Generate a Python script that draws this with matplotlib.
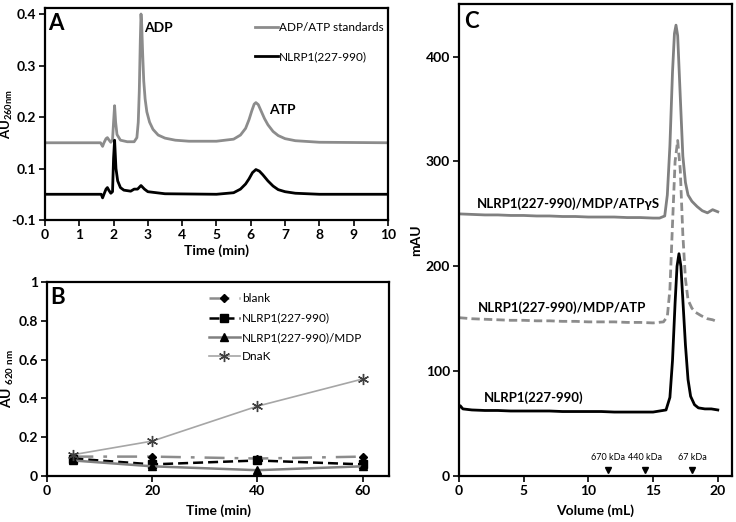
import matplotlib
matplotlib.use("Agg")
import matplotlib.pyplot as plt

plt.rcParams['font.family'] = ['Lato', 'DejaVu Sans']
plt.rcParams['mathtext.default'] = 'regular'

# ---------------- Panel A data ----------------
std_time = [0, 1.0, 1.62, 1.68, 1.72, 1.78, 1.82, 1.86, 1.92, 1.97, 2.0, 2.03, 2.06, 2.1, 2.2, 2.4,
            2.6, 2.68, 2.72, 2.75, 2.78, 2.8, 2.82, 2.85, 2.88, 2.92, 2.97, 3.05, 3.15, 3.3, 3.5, 3.8,
            4.2, 5.0, 5.5, 5.7, 5.85, 5.95, 6.03, 6.1, 6.15, 6.22, 6.3, 6.4, 6.5, 6.65, 6.8, 7.0, 7.3,
            8.0, 10.0]
std_au = [0.150, 0.150, 0.150, 0.143, 0.150, 0.158, 0.160, 0.156, 0.151, 0.156, 0.190, 0.222, 0.190,
          0.166, 0.155, 0.152, 0.152, 0.160, 0.190, 0.250, 0.350, 0.400, 0.380, 0.320, 0.270, 0.235,
          0.210, 0.190, 0.176, 0.165, 0.159, 0.155, 0.153, 0.153, 0.157, 0.165, 0.178, 0.195, 0.212,
          0.225, 0.228, 0.224, 0.212, 0.197, 0.185, 0.172, 0.164, 0.158, 0.154, 0.151, 0.150]
nlrp_time = [0, 1.0, 1.64, 1.68, 1.72, 1.78, 1.82, 1.86, 1.92, 1.97, 2.0, 2.03, 2.07, 2.12, 2.2, 2.3,
             2.5, 2.6, 2.7, 2.8, 2.9, 3.0, 3.5, 5.0, 5.5, 5.7, 5.85, 5.95, 6.05, 6.15, 6.25, 6.35, 6.5,
             6.65, 6.8, 7.0, 7.3, 8.0, 10.0]
nlrp_au = [0.050, 0.050, 0.050, 0.043, 0.050, 0.060, 0.063, 0.058, 0.052, 0.055, 0.120, 0.155, 0.100,
           0.076, 0.063, 0.058, 0.056, 0.060, 0.060, 0.067, 0.060, 0.055, 0.051, 0.050, 0.053, 0.060,
           0.070, 0.080, 0.092, 0.098, 0.095, 0.088, 0.076, 0.066, 0.059, 0.055, 0.052, 0.050, 0.050]
a_yticks = [0.0, 0.1, 0.2, 0.3, 0.4]
a_yticklabels = ['-0.1', '0.1', '0.2', '0.3', '0.4']
a_xticks = list(range(0, 11))

# ---------------- Panel B data ----------------
b_time = [5, 20, 40, 60]
b_blank = [0.10, 0.10, 0.09, 0.10]
b_nlrp = [0.09, 0.06, 0.08, 0.06]
b_nlrp_mdp = [0.08, 0.05, 0.03, 0.05]
b_dnak = [0.11, 0.18, 0.36, 0.50]
b_yticks = [0, 0.2, 0.4, 0.6, 0.8, 1.0]
b_yticklabels = ['0', '0.2', '0.4', '0.6', '0.8', '1']
b_xticks = [0, 20, 40, 60]

# ---------------- Panel C data ----------------
c_vol_atpgs = [0, 1, 2, 3, 4, 5, 6, 7, 8, 9, 10, 11, 12, 13, 14, 15, 15.5, 15.9, 16.1, 16.3, 16.5,
               16.65, 16.77, 16.9, 17.1, 17.3, 17.5, 17.7, 18.0, 18.4, 18.8, 19.2, 19.6, 20]
c_mau_atpgs = [250, 249.5, 249, 249, 248.5, 248.5, 248, 248, 247.5, 247.5, 247, 247, 247, 246.5, 246.5,
               246, 246, 248, 268, 315, 385, 422, 430, 420, 362, 305, 280, 268, 262, 257, 253, 251, 254, 252]
c_vol_atp = [0, 1, 2, 3, 4, 5, 6, 7, 8, 9, 10, 11, 12, 13, 14, 15, 15.8, 16.1, 16.3, 16.5, 16.7,
             16.9, 17.1, 17.3, 17.5, 17.7, 18.0, 18.3, 18.7, 19.2, 19.6, 20]
c_mau_atp = [151, 150, 149.5, 149, 148.5, 148.5, 148, 148, 147.5, 147.5, 147, 147, 147, 146.5, 146.5,
             146, 147, 152, 178, 240, 300, 320, 292, 230, 188, 168, 160, 156, 153, 150, 149, 147]
c_vol_nlrp = [0, 0.1, 0.3, 1, 2, 3, 4, 5, 6, 7, 8, 9, 10, 11, 12, 13, 14, 15, 16, 16.3, 16.5, 16.7,
              16.85, 17.0, 17.15, 17.3, 17.5, 17.7, 17.9, 18.2, 18.5, 19, 19.5, 20]
c_mau_nlrp = [65, 67, 64, 63, 62.5, 62.5, 62, 62, 62, 62, 61.5, 61.5, 61.5, 61.5, 61, 61, 61, 61, 63,
              75, 110, 165, 200, 212, 200, 168, 125, 92, 76, 68, 65, 64, 64, 63]
c_markers_vol = [11.5, 14.4, 18.0]
c_markers_lbl = ['670 kDa', '440 kDa', '67 kDa']
c_yticks = [0, 100, 200, 300, 400]
c_xticks = [0, 5, 10, 15, 20]

fig = plt.figure(figsize=(7.36, 5.22), dpi=100)

TICK_FS = 10
LBL_FS = 10
LEG_FS = 8.5
SPINE_LW = 1.6


def style_axes(ax):
    for s in ax.spines.values():
        s.set_linewidth(SPINE_LW)
        s.set_color('black')
    ax.tick_params(direction='out', length=4, width=1.2, labelsize=TICK_FS, pad=2.5)
    for lbl in ax.get_xticklabels() + ax.get_yticklabels():
        lbl.set_fontweight('bold')


# ---------------- Panel A ----------------
axA = fig.add_axes([0.0611, 0.5785, 0.466, 0.4065])
axA.plot(std_time, std_au, color='#8c8c8c', lw=2.0, label='ADP/ATP standards')
axA.plot(nlrp_time, nlrp_au, color='black', lw=2.0, label='NLRP1(227-990)')
axA.set_xlim(0, 10)
axA.set_ylim(0, 0.412)
axA.set_xticks(a_xticks)
axA.set_yticks(a_yticks)
axA.set_yticklabels(a_yticklabels)
style_axes(axA)
axA.set_xlabel('Time (min)', fontsize=LBL_FS, fontweight='bold', labelpad=2)
axA.set_ylabel('AU$_{260nm}$', fontsize=9.5, fontweight='bold')
axA.yaxis.set_label_coords(-0.088, 0.5)
axA.text(0.01, 0.975, 'A', transform=axA.transAxes, fontsize=16, fontweight='bold', va='top', ha='left')
axA.text(2.88, 0.372, 'ADP', fontsize=10, fontweight='bold', va='center', ha='left')
axA.text(6.52, 0.214, 'ATP', fontsize=10, fontweight='bold', va='center', ha='left')
axA.legend(loc='upper left', bbox_to_anchor=(0.6, 0.955), frameon=False, fontsize=LEG_FS,
           handlelength=1.9, handletextpad=0.1, labelspacing=1.5, borderaxespad=0)

# ---------------- Panel B ----------------
axB = fig.add_axes([0.0639, 0.0881, 0.4646, 0.3717])
axB.plot(b_time, b_blank, color='#8c8c8c', lw=1.8, linestyle=(0, (8, 4, 1.5, 4)), marker='D',
         markersize=4.5, markerfacecolor='black', markeredgecolor='black', label='blank')
axB.plot(b_time, b_nlrp, color='black', lw=1.8, linestyle=(0, (4, 2)), marker='s', markersize=5.5,
         markerfacecolor='black', markeredgecolor='black', label='NLRP1(227-990)')
axB.plot(b_time, b_nlrp_mdp, color='#808080', lw=1.8, linestyle='-', marker='^', markersize=6,
         markerfacecolor='black', markeredgecolor='black', label='NLRP1(227-990)/MDP')
axB.plot(b_time, b_dnak, color='#a6a6a6', lw=1.2, linestyle='-', marker=(6, 2, 0), markersize=8,
         markeredgecolor='#404040', markeredgewidth=1.0, label='DnaK')
axB.set_xlim(0, 65)
axB.set_ylim(0, 1)
axB.set_xticks(b_xticks)
axB.set_yticks(b_yticks)
axB.set_yticklabels(b_yticklabels)
style_axes(axB)
axB.set_xlabel('Time (min)', fontsize=LBL_FS, fontweight='bold', labelpad=5)
axB.set_ylabel('AU $_{620\\ nm}$', fontsize=LBL_FS, fontweight='bold')
axB.yaxis.set_label_coords(-0.09, 0.5)
axB.text(0.01, 0.975, 'B', transform=axB.transAxes, fontsize=16, fontweight='bold', va='top', ha='left')
axB.legend(loc='upper left', bbox_to_anchor=(0.46, 0.965), frameon=False, fontsize=LEG_FS,
           handlelength=2.6, handletextpad=0.2, labelspacing=0.7, borderaxespad=0)

# ---------------- Panel C ----------------
axC = fig.add_axes([0.6236, 0.0881, 0.371, 0.9039])
axC.plot(c_vol_atpgs, c_mau_atpgs, color='#808080', lw=2.0)
axC.plot(c_vol_atp, c_mau_atp, color='#8c8c8c', lw=2.0, linestyle=(0, (3, 1.5)))
axC.plot(c_vol_nlrp, c_mau_nlrp, color='black', lw=2.0)
axC.set_xlim(0, 21.1)
axC.set_ylim(0, 450)
axC.set_xticks(c_xticks)
axC.set_yticks(c_yticks)
style_axes(axC)
axC.set_xlabel('Volume (mL)', fontsize=LBL_FS, fontweight='bold', labelpad=5)
axC.set_ylabel('mAU', fontsize=LBL_FS, fontweight='bold')
axC.yaxis.set_label_coords(-0.135, 0.5)
axC.text(0.02, 0.985, 'C', transform=axC.transAxes, fontsize=16, fontweight='bold', va='top', ha='left')
axC.text(1.4, 260, 'NLRP1(227-990)/MDP/ATPγS', fontsize=9.5, fontweight='bold', va='center', ha='left')
axC.text(1.45, 161, 'NLRP1(227-990)/MDP/ATP', fontsize=9.5, fontweight='bold', va='center', ha='left')
axC.text(1.9, 75, 'NLRP1(227-990)', fontsize=9.5, fontweight='bold', va='center', ha='left')
for v, lbl in zip(c_markers_vol, c_markers_lbl):
    axC.plot([v], [6], marker='v', color='black', markersize=5)
    axC.text(v, 13, lbl, fontsize=6.5, ha='center', va='bottom')

fig.savefig('out.png', dpi=100)
